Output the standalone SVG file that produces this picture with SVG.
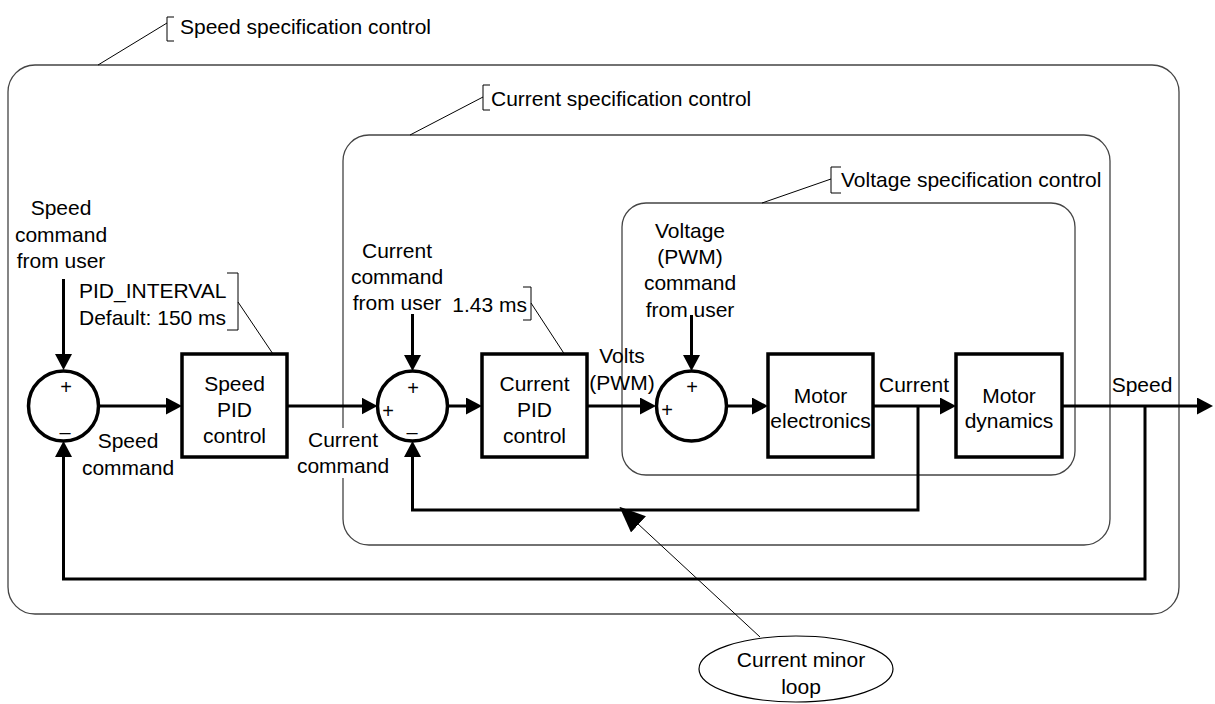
<svg xmlns="http://www.w3.org/2000/svg" width="1215" height="704" viewBox="0 0 1215 704">
<style>
text{font-family:"Liberation Sans",Arial,sans-serif;font-size:21px;fill:#000}
.c{text-anchor:middle}
.sg{font-size:20px;text-anchor:middle}
.ctr{fill:none;stroke:#444;stroke-width:1.3}
.blk{fill:#fff;stroke:#000;stroke-width:3.5}
.sum{fill:#fff;stroke:#000;stroke-width:3.5}
.sig{fill:none;stroke:#000;stroke-width:3;marker-end:url(#ah)}
.thin{fill:none;stroke:#000;stroke-width:1}
</style>
<defs>
<marker id="ah" markerUnits="userSpaceOnUse" markerWidth="17" markerHeight="17" refX="6" refY="8.5" orient="auto" viewBox="0 0 17 17">
<path d="M0,0 L16,8.5 L0,17 z" fill="#000"/>
</marker>
<marker id="ah2" markerUnits="userSpaceOnUse" markerWidth="26" markerHeight="22" refX="2" refY="11" orient="auto" viewBox="0 0 26 22">
<path d="M0,0 L26,11 L0,22 z" fill="#000"/>
</marker>
</defs>

<g id="speed-spec">
<rect class="ctr" x="8" y="65" width="1171" height="549" rx="27"/>
<path class="thin" d="M98,65 L167,23"/>
<path class="thin" d="M174,17 H167 V41 H174"/>
<text x="180" y="34">Speed specification control</text>
</g>
<g id="current-spec">
<rect class="ctr" x="343" y="135" width="767" height="410" rx="26"/>
<path class="thin" d="M410,135 L483,97"/>
<path class="thin" d="M490,85 H483 V110 H490"/>
<text x="491" y="106">Current specification control</text>
</g>
<g id="voltage-spec">
<rect class="ctr" x="622" y="203" width="453" height="272" rx="24"/>
<path class="thin" d="M762,203 L831,179"/>
<path class="thin" d="M841,167 H831 V193 H841"/>
<text x="841" y="187">Voltage specification control</text>
</g>
<rect x="335" y="428" width="16" height="50" fill="#fff"/>

<g id="connectors">
<path class="sig" d="M63.5,279 V360"/>
<path class="sig" d="M98.5,406 H172"/>
<path class="sig" d="M287,406 H367.5"/>
<path class="sig" d="M412.5,314 V361"/>
<path class="sig" d="M447.5,406 H472"/>
<path class="sig" d="M587,406 H646"/>
<path class="sig" d="M691.5,315 V361"/>
<path class="sig" d="M726.5,406 H758"/>
<path class="sig" d="M873,406 H946"/>
<path class="sig" d="M1062,406 H1203"/>
<path class="sig" d="M918,406 V510 H412.5 V451"/>
<path class="sig" d="M1145,406 V579 H63.5 V451"/>
<path d="M760,637 L637,523" fill="none" stroke="#000" stroke-width="1" marker-end="url(#ah2)"/>
</g>

<g id="speed-cmd-user">
<text class="c" x="61" y="215">Speed</text>
<text class="c" x="61" y="242">command</text>
<text class="c" x="61" y="268">from user</text>
</g>
<g id="sum1">
<circle class="sum" cx="63.5" cy="406" r="35"/>
<text class="sg" x="66" y="394">+</text>
<text class="sg" x="65" y="439">–</text>
</g>
<g id="speed-command-label">
<text class="c" x="128" y="448">Speed</text>
<text class="c" x="128" y="475">command</text>
</g>
<g id="pid-interval">
<text x="79" y="298">PID_INTERVAL</text>
<text x="79" y="325">Default: 150 ms</text>
<path class="thin" d="M227,273 H238 V330 H227"/>
<path class="thin" d="M238,302 L273,354"/>
</g>
<g id="speed-pid">
<rect class="blk" x="182" y="354" width="105" height="103"/>
<text class="c" x="234.5" y="391">Speed</text>
<text class="c" x="234.5" y="417">PID</text>
<text class="c" x="234.5" y="443">control</text>
</g>
<g id="current-command-label">
<text class="c" x="343" y="447">Current</text>
<text class="c" x="343" y="473">command</text>
</g>
<g id="current-cmd-user">
<text class="c" x="397" y="258">Current</text>
<text class="c" x="397" y="284">command</text>
<text class="c" x="397" y="310">from user</text>
</g>
<g id="sum2">
<circle class="sum" cx="412.5" cy="406" r="35"/>
<text class="sg" x="413" y="395">+</text>
<text class="sg" x="388" y="418">+</text>
<text class="sg" x="412" y="439">–</text>
</g>
<g id="interval-143">
<text x="527" y="312" text-anchor="end">1.43 ms</text>
<path class="thin" d="M523,287 H531 V320 H523"/>
<path class="thin" d="M531,303 L565,355"/>
</g>
<g id="current-pid">
<rect class="blk" x="482" y="354" width="105" height="103"/>
<text class="c" x="534.5" y="391">Current</text>
<text class="c" x="534.5" y="417">PID</text>
<text class="c" x="534.5" y="443">control</text>
</g>
<g id="volts-label">
<text class="c" x="622" y="363">Volts</text>
<text class="c" x="622" y="390">(PWM)</text>
</g>
<g id="voltage-cmd-user">
<text class="c" x="690" y="238">Voltage</text>
<text class="c" x="690" y="264">(PWM)</text>
<text class="c" x="690" y="290">command</text>
<text class="c" x="690" y="317">from user</text>
</g>
<g id="sum3">
<circle class="sum" cx="691.5" cy="406" r="35"/>
<text class="sg" x="692" y="394">+</text>
<text class="sg" x="667" y="417">+</text>
</g>
<g id="motor-electronics">
<rect class="blk" x="768" y="354" width="105" height="103"/>
<text class="c" x="820.5" y="403">Motor</text>
<text class="c" x="820.5" y="428">electronics</text>
</g>
<g id="current-label">
<text class="c" x="914" y="392">Current</text>
</g>
<g id="motor-dynamics">
<rect class="blk" x="956" y="354" width="106" height="103"/>
<text class="c" x="1009" y="403">Motor</text>
<text class="c" x="1009" y="428">dynamics</text>
</g>
<g id="speed-label">
<text class="c" x="1142" y="392">Speed</text>
</g>
<g id="current-minor-loop">
<ellipse cx="796" cy="669" rx="97" ry="33" fill="#fff" stroke="#000" stroke-width="1.2"/>
<text class="c" x="801" y="667">Current minor</text>
<text class="c" x="801" y="694">loop</text>
</g>
</svg>
